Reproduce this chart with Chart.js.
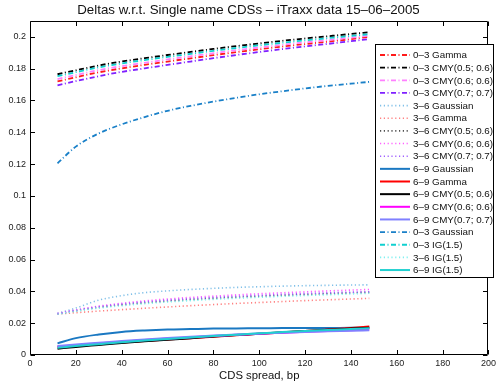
<!DOCTYPE html>
<html><head><meta charset="utf-8">
<script src="https://cdn.jsdelivr.net/npm/chart.js@4.4.0/dist/chart.umd.min.js"></script>
<style>html,body{margin:0;padding:0;background:#fff;}</style>
</head><body>
<canvas id="c" width="499" height="387"></canvas>
<script>
const titleText = "Deltas w.r.t. Single name CDSs \u2013 iTraxx data 15\u201306\u20132005";
const xTitle = "CDS spread, bp";
const spreads = [12, 20, 30, 40, 50, 60, 70, 80, 90, 100, 110, 120, 130, 140, 148];
const xTicks = [0, 20, 40, 60, 80, 100, 120, 140, 160, 180, 200];
const yTicks = [0, 0.02, 0.04, 0.06, 0.08, 0.1, 0.12, 0.14, 0.16, 0.18, 0.2];
const yTickLabels = ["0", "0.02", "0.04", "0.06", "0.08", "0.1", "0.12", "0.14", "0.16", "0.18", "0.2"];

const eq03Gamma  = [0.1720, 0.1746, 0.1777, 0.1802, 0.1824, 0.1845, 0.1865, 0.1885, 0.1904, 0.1922, 0.1939, 0.1955, 0.1970, 0.1986, 0.2001];
const eq03Cmy56  = [0.1765, 0.1790, 0.1820, 0.1845, 0.1866, 0.1886, 0.1905, 0.1924, 0.1942, 0.1959, 0.1975, 0.1990, 0.2004, 0.2018, 0.2029];
const eq03Cmy66  = [0.1735, 0.1760, 0.1791, 0.1816, 0.1837, 0.1858, 0.1878, 0.1897, 0.1916, 0.1933, 0.1950, 0.1966, 0.1980, 0.1995, 0.2007];
const eq03Cmy77  = [0.1695, 0.1722, 0.1753, 0.1780, 0.1802, 0.1824, 0.1845, 0.1866, 0.1886, 0.1905, 0.1923, 0.1940, 0.1956, 0.1973, 0.1986];
const mz36Gauss  = [0.0262, 0.0295, 0.0345, 0.0373, 0.0392, 0.0403, 0.0412, 0.0419, 0.0425, 0.0429, 0.0433, 0.0436, 0.0438, 0.0440, 0.0441];
const mz36Gamma  = [0.0258, 0.0266, 0.0276, 0.0285, 0.0294, 0.0302, 0.0310, 0.0317, 0.0324, 0.0330, 0.0336, 0.0342, 0.0347, 0.0352, 0.0356];
const mz36Cmy56  = [0.0258, 0.0278, 0.0299, 0.0315, 0.0328, 0.0339, 0.0348, 0.0356, 0.0363, 0.0369, 0.0375, 0.0380, 0.0385, 0.0390, 0.0394];
const mz36Cmy66  = [0.0260, 0.0283, 0.0307, 0.0325, 0.0340, 0.0352, 0.0362, 0.0370, 0.0378, 0.0385, 0.0391, 0.0397, 0.0403, 0.0408, 0.0412];
const mz36Cmy77  = [0.0260, 0.0281, 0.0303, 0.0320, 0.0334, 0.0345, 0.0354, 0.0362, 0.0369, 0.0375, 0.0381, 0.0386, 0.0391, 0.0395, 0.0398];
const mz69Gauss  = [0.0073, 0.0106, 0.0129, 0.0145, 0.0154, 0.0160, 0.0163, 0.0166, 0.0167, 0.0168, 0.0169, 0.0170, 0.0170, 0.0171, 0.0171];
const mz69Gamma  = [0.0052, 0.0060, 0.0069, 0.0079, 0.0088, 0.0097, 0.0106, 0.0115, 0.0124, 0.0133, 0.0142, 0.0151, 0.0160, 0.0170, 0.0179];
const mz69Cmy56  = [0.0040, 0.0051, 0.0063, 0.0075, 0.0086, 0.0096, 0.0106, 0.0116, 0.0125, 0.0134, 0.0143, 0.0151, 0.0158, 0.0166, 0.0172];
const mz69Cmy66  = [0.0052, 0.0062, 0.0073, 0.0084, 0.0094, 0.0103, 0.0112, 0.0120, 0.0127, 0.0134, 0.0140, 0.0146, 0.0151, 0.0156, 0.0160];
const mz69Cmy77  = [0.0056, 0.0066, 0.0077, 0.0088, 0.0098, 0.0107, 0.0115, 0.0122, 0.0129, 0.0135, 0.0140, 0.0145, 0.0149, 0.0152, 0.0155];
const eq03Gauss  = [0.1205, 0.1310, 0.1393, 0.1450, 0.1496, 0.1535, 0.1566, 0.1593, 0.1617, 0.1639, 0.1658, 0.1676, 0.1692, 0.1706, 0.1717];
const eq03IG     = [0.1753, 0.1778, 0.1808, 0.1833, 0.1854, 0.1874, 0.1893, 0.1912, 0.1930, 0.1947, 0.1963, 0.1978, 0.1992, 0.2006, 0.2017];
const mz36IG     = [0.0256, 0.0275, 0.0295, 0.0310, 0.0323, 0.0333, 0.0342, 0.0350, 0.0357, 0.0363, 0.0369, 0.0374, 0.0379, 0.0384, 0.0388];
const mz69IG     = [0.0045, 0.0056, 0.0068, 0.0080, 0.0091, 0.0101, 0.0110, 0.0119, 0.0128, 0.0136, 0.0144, 0.0151, 0.0157, 0.0163, 0.0168];

const DASHDOT = [5, 2.5, 1, 2.5];
const DOT = [1.2, 2.6];
const SOLID = [];

const seriesDefs = [
  ["0\u20133 Gamma", eq03Gamma, "#ff1a1a", DASHDOT, 1.8],
  ["0\u20133 CMY(0.5; 0.6)", eq03Cmy56, "#000000", DASHDOT, 1.8],
  ["0\u20133 CMY(0.6; 0.6)", eq03Cmy66, "#ff80ff", DASHDOT, 1.8],
  ["0\u20133 CMY(0.7; 0.7)", eq03Cmy77, "#8020ff", DASHDOT, 1.8],
  ["3\u20136 Gaussian", mz36Gauss, "#80c0e8", DOT, 1.6],
  ["3\u20136 Gamma", mz36Gamma, "#ff8080", DOT, 1.6],
  ["3\u20136 CMY(0.5; 0.6)", mz36Cmy56, "#505050", DOT, 1.6],
  ["3\u20136 CMY(0.6; 0.6)", mz36Cmy66, "#ff60ff", DOT, 1.6],
  ["3\u20136 CMY(0.7; 0.7)", mz36Cmy77, "#a060ff", DOT, 1.6],
  ["6\u20139 Gaussian", mz69Gauss, "#1a78c2", SOLID, 2],
  ["6\u20139 Gamma", mz69Gamma, "#ff0000", SOLID, 2],
  ["6\u20139 CMY(0.5; 0.6)", mz69Cmy56, "#000000", SOLID, 2],
  ["6\u20139 CMY(0.6; 0.6)", mz69Cmy66, "#ff00ff", SOLID, 2],
  ["6\u20139 CMY(0.7; 0.7)", mz69Cmy77, "#8080ff", SOLID, 2],
  ["0\u20133 Gaussian", eq03Gauss, "#1a80c8", DASHDOT, 1.8],
  ["0\u20133 IG(1.5)", eq03IG, "#10d0d0", DASHDOT, 1.8],
  ["3\u20136 IG(1.5)", mz36IG, "#80f0f0", DOT, 1.6],
  ["6\u20139 IG(1.5)", mz69IG, "#20d0d0", SOLID, 2]
];

const datasets = seriesDefs.map((d, i) => ({
  label: d[0],
  data: spreads.map((x, k) => ({x: x, y: d[1][k]})),
  borderColor: d[2],
  backgroundColor: d[2],
  borderDash: d[3],
  borderWidth: d[4],
  pointRadius: 0,
  fill: false,
  cubicInterpolationMode: 'monotone',
  order: -i
}));

const FONT = "'Liberation Sans', Arial, Helvetica, sans-serif";

const boxPlugin = {
  id: 'boxTicks',
  afterDatasetsDraw(chart) {
    const {ctx, chartArea: a, scales: {x, y}} = chart;
    ctx.save();
    ctx.strokeStyle = '#000';
    ctx.lineWidth = 1;
    ctx.setLineDash([]);
    const L = Math.round(a.left) + 0.5, R = Math.round(a.right) - 0.5;
    const T = Math.round(a.top) + 0.5, B = Math.round(a.bottom) - 0.5;
    ctx.beginPath();
    ctx.rect(L, T, R - L, B - T);
    const tl = 4.5;
    xTicks.forEach(v => {
      const px = Math.round(x.getPixelForValue(v)) + 0.5;
      ctx.moveTo(px, B); ctx.lineTo(px, B - tl);
      ctx.moveTo(px, T); ctx.lineTo(px, T + tl);
    });
    yTicks.forEach(v => {
      const py = Math.round(y.getPixelForValue(v)) + 0.5;
      ctx.moveTo(L, py); ctx.lineTo(L + tl, py);
      ctx.moveTo(R, py); ctx.lineTo(R - tl, py);
    });
    ctx.stroke();
    ctx.restore();
  },
  afterDraw(chart) {
    const {ctx} = chart;
    const bx = 375, by = 44, bw = 119, bh = 234;
    ctx.save();
    ctx.fillStyle = '#fff';
    ctx.fillRect(bx, by, bw, bh);
    ctx.strokeStyle = '#000';
    ctx.lineWidth = 1;
    ctx.setLineDash([]);
    ctx.strokeRect(bx + 0.5, by + 0.5, bw - 1, bh - 1);
    ctx.font = "9.8px " + FONT;
    ctx.textBaseline = 'middle';
    ctx.fillStyle = '#111';
    chart.data.datasets.forEach((ds, i) => {
      const yy = by + 11 + i * 12.65;
      ctx.beginPath();
      ctx.strokeStyle = ds.borderColor;
      ctx.lineWidth = ds.borderWidth;
      ctx.setLineDash(ds.borderDash);
      ctx.moveTo(380, yy); ctx.lineTo(410, yy);
      ctx.stroke();
      ctx.fillText(ds.label, 413, yy + 0.5);
    });
    ctx.restore();
  }
};

new Chart(document.getElementById('c'), {
  type: 'line',
  data: {datasets},
  options: {
    responsive: false,
    animation: false,
    layout: {padding: {left: 0, right: 2, top: 0, bottom: 0}},
    plugins: {
      legend: {display: false},
      tooltip: {enabled: false},
      title: {
        display: true, text: titleText, color: '#111',
        font: {family: FONT, size: 13.3, weight: 'normal'},
        padding: {top: 2, bottom: 3}
      }
    },
    scales: {
      x: {
        type: 'linear', min: 0, max: 200,
        afterFit: s => { s.height = 32; },
        afterBuildTicks: s => { s.ticks = xTicks.map(v => ({value: v})); },
        grid: {display: false, drawTicks: false},
        border: {display: false},
        ticks: {color: '#222', font: {family: FONT, size: 9}, padding: 3, maxRotation: 0,
          callback: v => String(v)},
        title: {display: true, text: xTitle, color: '#111',
          font: {family: FONT, size: 11.3}, padding: {top: 0, bottom: 4}}
      },
      y: {
        type: 'linear', min: 0, max: 0.21,
        afterFit: s => { s.width = 30; },
        afterBuildTicks: s => { s.ticks = yTicks.map(v => ({value: v})); },
        grid: {display: false, drawTicks: false},
        border: {display: false},
        ticks: {color: '#222', font: {family: FONT, size: 9}, padding: 4,
          callback: (v, i) => yTickLabels[i]}
      }
    }
  },
  plugins: [boxPlugin]
});
</script>
</body></html>
